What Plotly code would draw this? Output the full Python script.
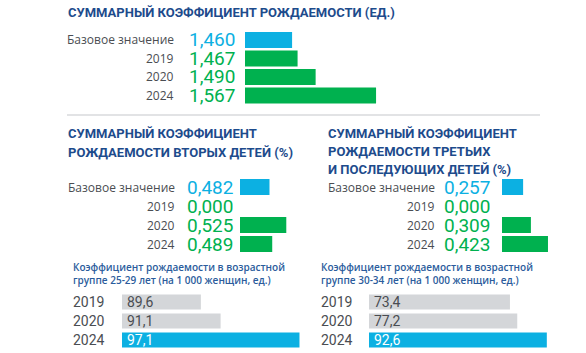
import plotly.graph_objects as go

# ---------------- data ----------------
tfr_cats = ["Базовое значение", "2019", "2020", "2024"]
tfr_vals = [1.460, 1.467, 1.490, 1.567]
tfr_text = ["1,460", "1,467", "1,490", "1,567"]

second_cats = ["Базовое значение", "2019", "2020", "2024"]
second_vals = [0.482, 0.000, 0.525, 0.489]
second_text = ["0,482", "0,000", "0,525", "0,489"]

third_cats = ["Базовое значение", "2019", "2020", "2024"]
third_vals = [0.257, 0.000, 0.309, 0.423]
third_text = ["0,257", "0,000", "0,309", "0,423"]

age25_cats = ["2019", "2020", "2024"]
age25_vals = [89.6, 91.1, 97.1]
age25_text = ["89,6", "91,1", "97,1"]

age30_cats = ["2019", "2020", "2024"]
age30_vals = [73.4, 77.2, 92.6]
age30_text = ["73,4", "77,2", "92,6"]

# ---------------- style ----------------
W, H = 586, 353
BLUE = "#0cb0e2"
GREEN = "#00b14f"
GRAY_BAR = "#d4d6d9"
NAVY = "#1d4b8c"
SUB = "#2b5c9c"
LABEL = "#4a4d52"
COND = "Roboto, sans-serif"
REG = "Open Sans, DejaVu Sans, sans-serif"


def fx(px):
    return px / W


def fy(py):
    return 1 - py / H


fig = go.Figure()

panels = [
    # name, cats, vals, colors, xdom(px), xrange, ydom(px top,bottom), width
    ("", tfr_cats, tfr_vals, [BLUE, GREEN, GREEN, GREEN], (245, 400), (1.40, 1.5975), (30.75, 104.75), 0.86),
    ("2", second_cats, second_vals, [BLUE, GREEN, GREEN, GREEN], (240, 300), (0.4065, 0.5601), (177.5, 253.5), 0.85),
    ("3", third_cats, third_vals, [BLUE, GREEN, GREEN, GREEN], (502, 560), (0.1159, 0.5033), (177.5, 253.5), 0.85),
    ("4", age25_cats, age25_vals, [GRAY_BAR, GRAY_BAR, BLUE], (122, 310), (83.6, 97.9), (292.5, 349.5), 0.8),
    ("5", age30_cats, age30_vals, [GRAY_BAR, GRAY_BAR, BLUE], (369, 586), (0, 113.0), (292.5, 349.5), 0.8),
]

layout = dict(
    width=W, height=H, margin=dict(l=0, r=0, t=0, b=0),
    paper_bgcolor="white", plot_bgcolor="white", showlegend=False,
    barmode="overlay",
)

for name, cats, vals, cols, xd, xr, yd, wd in panels:
    fig.add_trace(go.Bar(
        x=vals, y=cats, orientation="h", marker=dict(color=cols, line=dict(width=0)),
        width=wd, xaxis="x" + name, yaxis="y" + name, hoverinfo="skip",
    ))
    layout["xaxis" + name] = dict(
        domain=[fx(xd[0]), fx(xd[1])], range=list(xr), anchor="y" + name,
        showticklabels=False, showgrid=False, zeroline=False, showline=False, fixedrange=True,
    )
    n = len(cats)
    layout["yaxis" + name] = dict(
        domain=[fy(yd[1]), fy(yd[0])], range=[n - 0.5, -0.5], anchor="x" + name,
        type="category", categoryorder="array", categoryarray=cats,
        showticklabels=False, showgrid=False, zeroline=False, showline=False, fixedrange=True,
    )

fig.update_layout(**layout)

ann = []


def label_value_block(cats, texts, yname, label_right, value_right):
    for i, (c, t) in enumerate(zip(cats, texts)):
        ann.append(dict(xref="paper", yref=yname, x=fx(label_right), y=i, xanchor="right", yanchor="middle",
                        text=c, showarrow=False, font=dict(family=REG, size=12, color=LABEL)))
        ann.append(dict(xref="paper", yref=yname, x=fx(value_right), y=i, xanchor="right", yanchor="middle",
                        text=t, showarrow=False,
                        font=dict(family=COND, size=19, color=BLUE if i == 0 else GREEN)))


label_value_block(tfr_cats, tfr_text, "y", 176, 237)
label_value_block(second_cats, second_text, "y2", 177, 235)
label_value_block(third_cats, third_text, "y3", 437, 492)


def bottom_block(cats, texts, cols, yname, label_left, text_left):
    for i, (c, t, col) in enumerate(zip(cats, texts, cols)):
        ann.append(dict(xref="paper", yref=yname, x=fx(label_left), y=i, xanchor="left", yanchor="middle",
                        text=c, showarrow=False, font=dict(family=COND, size=14, color=LABEL)))
        ann.append(dict(xref="paper", yref=yname, x=fx(text_left), y=i, xanchor="left", yanchor="middle",
                        text=t, showarrow=False,
                        font=dict(family=COND, size=14, color="white" if col == BLUE else LABEL)))


bottom_block(age25_cats, age25_text, [GRAY_BAR, GRAY_BAR, BLUE], "y4", 71, 125)
bottom_block(age30_cats, age30_text, [GRAY_BAR, GRAY_BAR, BLUE], "y5", 319, 372)


def title_lines(lines, x_left, ys, size, color, weight="bold", family=COND):
    for line, yy in zip(lines, ys):
        ann.append(dict(xref="paper", yref="paper", x=fx(x_left), y=fy(yy), xanchor="left", yanchor="middle",
                        text=line, showarrow=False,
                        font=dict(family=family, size=size, color=color, weight=weight)))


title_lines(["СУММАРНЫЙ КОЭФФИЦИЕНТ РОЖДАЕМОСТИ (ЕД.)"], 66, [12], 13, NAVY)
title_lines(["СУММАРНЫЙ КОЭФФИЦИЕНТ", "РОЖДАЕМОСТИ ВТОРЫХ ДЕТЕЙ (%)"], 66, [133, 152], 13, NAVY)
title_lines(["СУММАРНЫЙ КОЭФФИЦИЕНТ", "РОЖДАЕМОСТИ ТРЕТЬИХ", "И ПОСЛЕДУЮЩИХ ДЕТЕЙ (%)"], 326, [133, 151, 169], 13, NAVY)
title_lines(["Коэффициент рождаемости в возрастной", "группе 25-29 лет (на 1 000 женщин, ед.)"], 71, [267, 280], 10,
            SUB, weight=600, family=REG)
title_lines(["Коэффициент рождаемости в возрастной", "группе 30-34 лет (на 1 000 женщин, ед.)"], 319, [267, 280], 10,
            SUB, weight=600, family=REG)

fig.update_layout(annotations=ann)

fig.add_shape(type="line", xref="paper", yref="paper", x0=fx(67), x1=fx(540), y0=fy(115), y1=fy(115),
              line=dict(color="#e2e3e5", width=2))

fig.write_html("out.html")
